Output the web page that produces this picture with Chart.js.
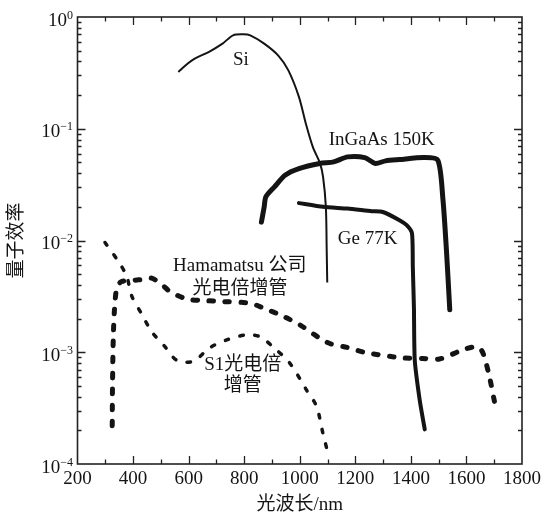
<!DOCTYPE html>
<html>
<head>
<meta charset="utf-8">
<script src="https://cdn.jsdelivr.net/npm/chart.js@4"></script>
<style>
  html, body { margin: 0; padding: 0; background: #fff; }
</style>
</head>
<body>
<canvas id="qeChart" width="545" height="514"></canvas>
<script>
// wavelengths in nm, quantum efficiency as fraction
const siX = [563, 597, 622, 672, 722, 760, 797, 822, 872, 922, 959, 997, 1022, 1047, 1073, 1084, 1094, 1097, 1099];
const siY = [0.322, 0.383, 0.424, 0.486, 0.578, 0.686, 0.70, 0.686, 0.578, 0.454, 0.333, 0.193, 0.111, 0.0688, 0.049, 0.037, 0.020, 0.0082, 0.0042];

const ingaasX = [862, 872, 878, 909, 947, 997, 1072, 1122, 1172, 1234, 1272, 1309, 1359, 1447, 1497, 1515, 1528, 1540];
const ingaasY = [0.0146, 0.020, 0.0246, 0.0302, 0.0384, 0.044, 0.0489, 0.0505, 0.056, 0.0552, 0.0489, 0.0516, 0.053, 0.0552, 0.0523, 0.024, 0.0082, 0.0024];

const geX = [997, 1084, 1172, 1259, 1299, 1359, 1385, 1404, 1407, 1411, 1414, 1432, 1450];
const geY = [0.0216, 0.020, 0.0193, 0.0183, 0.018, 0.0152, 0.0137, 0.0116, 0.0058, 0.0025, 0.00085, 0.00037, 0.000204];

const hamaX = [325, 326, 329, 334, 343, 360, 400, 440, 467, 500, 533, 593, 660, 724, 820, 867, 940, 1000, 1100, 1173, 1240, 1371, 1443, 1503, 1587, 1640, 1659, 1683, 1701];
const hamaY = [0.00022, 0.0005, 0.0014, 0.0026, 0.0039, 0.0043, 0.0044, 0.0045, 0.0046, 0.0041, 0.0035, 0.0030, 0.0029, 0.00284, 0.00275, 0.0025, 0.0021, 0.00176, 0.00122, 0.0011, 0.00099, 0.00089, 0.00088, 0.00087, 0.00105, 0.00112, 0.00099, 0.0006, 0.00036];

const s1X = [299, 347, 377, 395, 431, 467, 515, 557, 616, 677, 737, 808, 856, 903, 964, 1024, 1060, 1083, 1101];
const s1Y = [0.0096, 0.0065, 0.0048, 0.0032, 0.0022, 0.00153, 0.00112, 0.00085, 0.00083, 0.0011, 0.00129, 0.00143, 0.00138, 0.00112, 0.0008, 0.00046, 0.00033, 0.00019, 0.000126];

const xTickLabels = [200, 400, 600, 800, 1000, 1200, 1400, 1600, 1800];
const yDecades = [-4, -3, -2, -1, 0];

// text labels placed in data coordinates
const notes = [
  { text: 'Si', x: 788, y: 0.41 },
  { text: 'InGaAs 150K', x: 1295, y: 0.079 },
  { text: 'Ge 77K', x: 1244, y: 0.0104 },
  { text: 'Hamamatsu 公司', x: 784, y: 0.0059 },
  { text: '光电倍增管', x: 785, y: 0.00365 },
  { text: 'S1光电倍', x: 795, y: 0.00077 },
  { text: '增管', x: 795, y: 0.0005 },
];

const FAMILY = "'Liberation Serif', 'Noto Sans CJK SC', serif";
const INK = '#141414';

function pairs(xs, ys) {
  return xs.map((x, i) => ({ x: x, y: ys[i] }));
}

// frame, inward tick marks, y labels with exponents, and the curve names
const axisMarks = {
  id: 'axisMarks',
  afterDatasetsDraw(chart) {
    const { ctx, chartArea: a, scales } = chart;
    const xs = scales.x;
    const ys = scales.y;
    ctx.save();
    ctx.strokeStyle = '#222';
    ctx.lineWidth = 1.3;

    // x ticks, bottom and top
    for (let v = 300; v < 1800; v += 100) {
      const px = Math.round(xs.getPixelForValue(v)) + 0.5;
      const len = v % 200 === 0 ? 8 : 4.5;
      ctx.beginPath();
      ctx.moveTo(px, a.bottom); ctx.lineTo(px, a.bottom - len);
      ctx.moveTo(px, a.top); ctx.lineTo(px, a.top + len);
      ctx.stroke();
    }

    // y ticks, left and right
    yDecades.forEach((n) => {
      for (let k = 1; k <= 9; k++) {
        const v = k * Math.pow(10, n);
        if (v > 1 || (k === 1 && (n === 0 || n === -4))) continue;
        const py = Math.round(ys.getPixelForValue(v)) + 0.5;
        const len = k === 1 ? 8 : 4;
        ctx.beginPath();
        ctx.moveTo(a.left, py); ctx.lineTo(a.left + len, py);
        ctx.moveTo(a.right, py); ctx.lineTo(a.right - len, py);
        ctx.stroke();
      }
    });

    // frame
    ctx.lineWidth = 1.6;
    ctx.strokeRect(a.left, a.top, a.right - a.left, a.bottom - a.top);

    // y tick labels: 10 with raised exponent
    ctx.fillStyle = INK;
    ctx.textAlign = 'right';
    ctx.textBaseline = 'alphabetic';
    yDecades.forEach((n) => {
      const py = ys.getPixelForValue(Math.pow(10, n));
      const exp = n === 0 ? '0' : '\u2212' + Math.abs(n);
      ctx.font = '12px ' + FAMILY;
      const ew = ctx.measureText(exp).width;
      ctx.fillText(exp, 73, py + 1.5);
      ctx.font = '19px ' + FAMILY;
      ctx.fillText('10', 73 - ew, py + 8.5);
    });

    // curve names
    ctx.textAlign = 'center';
    ctx.textBaseline = 'middle';
    ctx.font = '19px ' + FAMILY;
    notes.forEach((n) => {
      ctx.fillText(n.text, xs.getPixelForValue(n.x), ys.getPixelForValue(n.y));
    });
    ctx.restore();
  }
};

const ctx = document.getElementById('qeChart').getContext('2d');

new Chart(ctx, {
  type: 'line',
  data: {
    datasets: [
      {
        label: 'Si',
        data: pairs(siX, siY),
        borderColor: INK,
        borderWidth: 2,
        tension: 0.3,
      },
      {
        label: 'InGaAs 150K',
        data: pairs(ingaasX, ingaasY),
        borderColor: INK,
        borderWidth: 5,
        borderCapStyle: 'round',
        borderJoinStyle: 'round',
        tension: 0.25,
      },
      {
        label: 'Ge 77K',
        data: pairs(geX, geY),
        borderColor: INK,
        borderWidth: 4,
        borderCapStyle: 'round',
        borderJoinStyle: 'round',
        tension: 0.2,
      },
      {
        label: 'Hamamatsu',
        data: pairs(hamaX, hamaY),
        borderColor: INK,
        borderWidth: 5,
        borderDash: [4.5, 11.5],
        borderCapStyle: 'round',
        tension: 0.3,
      },
      {
        label: 'S1',
        data: pairs(s1X, s1Y),
        borderColor: INK,
        borderWidth: 3.5,
        borderDash: [3.5, 11.5],
        borderCapStyle: 'round',
        tension: 0.3,
      },
    ],
  },
  options: {
    responsive: false,
    animation: false,
    devicePixelRatio: 1,
    layout: { padding: { top: 17, right: 22, left: 0, bottom: 0 } },
    elements: { point: { radius: 0 } },
    plugins: {
      legend: { display: false },
      tooltip: { enabled: false },
    },
    scales: {
      x: {
        type: 'linear',
        min: 200,
        max: 1800,
        afterBuildTicks: (scale) => {
          scale.ticks = xTickLabels.map((v) => ({ value: v }));
        },
        ticks: {
          autoSkip: false,
          maxRotation: 0,
          padding: 4,
          color: INK,
          font: { family: FAMILY, size: 19 },
          callback: (value) => String(value),
        },
        grid: { display: false, drawTicks: false },
        border: { display: false },
        title: {
          display: true,
          text: '光波长/nm',
          color: INK,
          font: { family: FAMILY, size: 19, lineHeight: 1 },
          padding: { top: 0, bottom: -1 },
        },
        afterFit: (scale) => { scale.height = 50; },
      },
      y: {
        type: 'logarithmic',
        min: 1e-4,
        max: 1,
        ticks: { display: false },
        grid: { display: false, drawTicks: false },
        border: { display: false },
        title: {
          display: true,
          text: '量子效率',
          color: INK,
          font: { family: FAMILY, size: 19, lineHeight: 1 },
          padding: { top: 7.5, bottom: 0 },
        },
        afterFit: (scale) => { scale.width = 77.5; },
      },
    },
  },
  plugins: [axisMarks],
});
</script>
</body>
</html>
